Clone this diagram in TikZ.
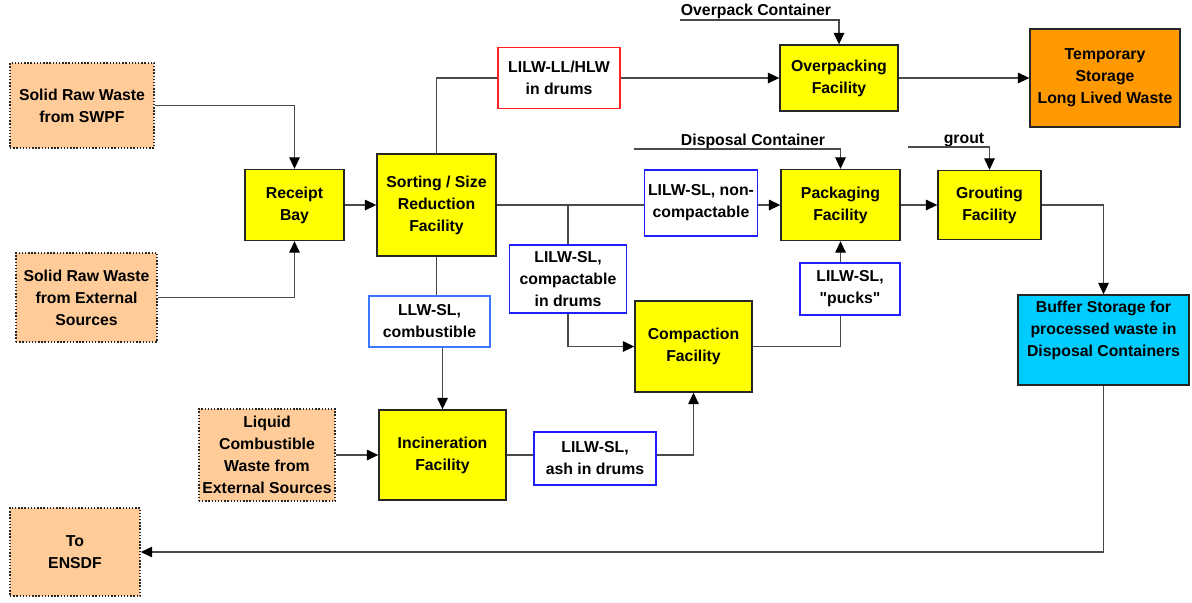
\documentclass[tikz,border=0pt]{standalone}
\usepackage{fontspec}
\setmainfont{Liberation Sans}[Ligatures=TeXOff]
\usetikzlibrary{arrows.meta}
\definecolor{facyellow}{HTML}{FFFF00}
\definecolor{srcorange}{HTML}{FFCC99}
\definecolor{storeorange}{HTML}{FF9900}
\definecolor{buffercyan}{HTML}{00CCFF}
\definecolor{flowgray}{HTML}{4A4A4A}
\definecolor{tagred}{HTML}{FF2020}
\definecolor{tagblue}{HTML}{1E1EFF}
\definecolor{taglight}{HTML}{3C78FF}

\begin{document}
\begin{tikzpicture}[
  x=0.02cm, y=-0.02cm,
  font=\fontsize{9}{12.5}\selectfont\bfseries,
  box/.style={draw=black!85, line width=0.8pt, align=center, inner sep=2pt},
  facility/.style={box, fill=facyellow},
  source/.style={box, fill=srcorange, densely dotted, line width=0.9pt},
  tag/.style={box, fill=white, draw=tagblue, line width=1pt},
  flow/.style={draw=flowgray, line width=0.6pt},
  arr/.style={flow, -{Triangle[length=6.5pt, width=6pt, color=black]}},
  supply/.style={inner sep=1pt},
]
\useasboundingbox (0,0) rectangle (1192,602);
% sources
\node[source, minimum width=2.88cm, minimum height=1.70cm] (swpf) at (82,105.5) {Solid Raw Waste\\from SWPF};
\node[source, minimum width=2.82cm, minimum height=1.78cm] (ext) at (86.5,297.5) {Solid Raw Waste\\from External\\Sources};
\node[source, minimum width=2.72cm, minimum height=1.84cm] (liquid) at (267,455) {Liquid\\Combustible\\Waste from\\External Sources};
\node[source, minimum width=2.6cm, minimum height=1.76cm] (ensdf) at (75,552) {To\\ENSDF};
% facilities
\node[facility, minimum width=1.98cm, minimum height=1.42cm] (receipt) at (294.5,205) {Receipt\\Bay};
\node[facility, minimum width=2.38cm, minimum height=2.04cm] (sorting) at (436.5,205) {Sorting / Size\\Reduction\\Facility};
\node[facility, minimum width=2.36cm, minimum height=1.32cm] (overpack) at (839,78) {Overpacking\\Facility};
\node[box, fill=storeorange, minimum width=3.0cm, minimum height=1.96cm] (temp) at (1105,78) {Temporary\\Storage\\Long Lived Waste};
\node[facility, minimum width=2.38cm, minimum height=1.42cm] (packaging) at (840.5,205) {Packaging\\Facility};
\node[facility, minimum width=2.06cm, minimum height=1.38cm] (grouting) at (989.5,205) {Grouting\\Facility};
\node[facility, minimum width=2.34cm, minimum height=1.82cm] (compaction) at (693.5,346.5) {Compaction\\Facility};
\node[facility, minimum width=2.54cm, minimum height=1.80cm] (incin) at (442.5,455) {Incineration\\Facility};
\node[box, fill=buffercyan, minimum width=3.42cm, minimum height=1.80cm] (buffer) at (1103.5,340) {Buffer Storage for\\processed waste in\\Disposal Containers\\~};
% waste streams
\node[tag, draw=tagred, minimum width=2.44cm, minimum height=1.22cm] (llhlw) at (559,78) {LILW-LL/HLW\\in drums};
\node[tag, minimum width=2.2cm, minimum height=1.32cm] (noncomp) at (701,203) {LILW-SL, non-\\compactable};
\node[tag, minimum width=2.34cm, minimum height=1.36cm] (compdrum) at (568,279) {LILW-SL,\\compactable\\in drums};
\node[tag, draw=taglight, minimum width=2.42cm, minimum height=1.02cm] (combust) at (429.5,321.5) {LLW-SL,\\combustible};
\node[tag, minimum width=2.0cm, minimum height=1.04cm] (pucks) at (850,289) {LILW-SL,\\"pucks"};
\node[tag, minimum width=2.44cm, minimum height=1.06cm] (ash) at (595,458.5) {LILW-SL,\\ash in drums};
% containers and additives
\node[supply, anchor=south] (opc) at (756,21) {Overpack Container};
\node[supply] (dispc) at (753,141) {Disposal Container};
\node[supply] (grout) at (964,140) {grout};
\coordinate (opcstart) at (680,20);
\coordinate (dispstart) at (634,149);
\coordinate (groutstart) at (908,147);
% flows
\draw[arr] (swpf.east) -| (receipt.north);
\draw[arr] (ext.east) -| (receipt.south);
\draw[arr] (receipt.east) -- (sorting.west);
\draw[flow] (sorting.north) |- (llhlw.west);
\draw[arr] (llhlw.east) -- (overpack.west);
\draw[arr] (overpack.east) -- (temp.west);
\draw[arr] (opcstart) -| (overpack.north);
\draw[flow] (sorting.east) -- (noncomp.west |- sorting.east);
\draw[arr] (noncomp.east |- sorting.east) -- (packaging.west);
\draw[flow] (compdrum.north) -- (compdrum.north |- sorting.east);
\draw[arr] (compdrum.south) |- (compaction.west);
\draw[flow] (sorting.south) -- (sorting.south |- combust.north);
\draw[arr] (combust.south -| incin.north) -- (incin.north);
\draw[arr] (liquid.east) -- (incin.west);
\draw[flow] (incin.east) -- (incin.east -| ash.west);
\draw[arr] (ash.east |- incin.east) -| (compaction.south);
\draw[flow] (compaction.east) -| (packaging.south |- pucks.south);
\draw[arr] (packaging.south |- pucks.north) -- (packaging.south);
\draw[arr] (dispstart) -| (packaging.north);
\draw[arr] (packaging.east) -- (grouting.west);
\draw[arr] (groutstart) -| (grouting.north);
\draw[arr] (grouting.east) -| (buffer.north);
\draw[arr] (buffer.south) |- (ensdf.east);
\end{tikzpicture}
\end{document}
